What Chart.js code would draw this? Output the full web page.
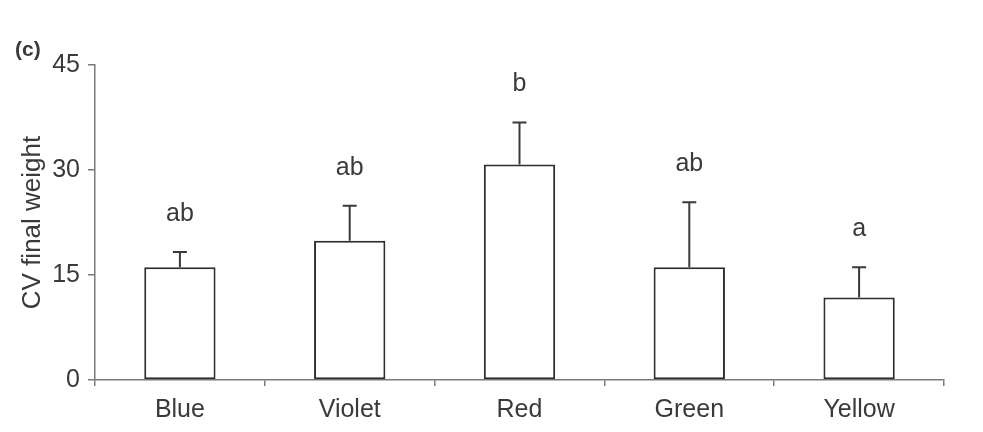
<!DOCTYPE html>
<html>
<head>
<meta charset="utf-8">
<script src="https://cdn.jsdelivr.net/npm/chart.js@4/dist/chart.umd.min.js"></script>
<style>
    html, body { margin: 0; padding: 0; background: #ffffff; }
    #wrap { width: 983px; height: 432px; position: relative; }
</style>
</head>
<body>
<div id="wrap"><canvas id="cv-chart"></canvas></div>
<script>
// 数据
const categories = ['Blue', 'Violet', 'Red', 'Green', 'Yellow'];
const cvMeans = [16.1, 19.9, 30.8, 16.1, 11.8];
const cvErrorTops = [18.3, 24.9, 36.8, 25.4, 16.1];
const groupLetters = ['ab', 'ab', 'b', 'ab', 'a'];
const yTicks = [0, 15, 30, 45];

const fontFamily = '"Liberation Sans", Arial, Helvetica, sans-serif';
const inkColor = '#3a3a3a';
const axisColor = '#7a7a7a';

// 误差线 + 字母标注
const errorBarPlugin = {
    id: 'errorBars',
    afterDatasetsDraw(chart) {
        const ctx = chart.ctx;
        const meta = chart.getDatasetMeta(0);
        const yScale = chart.scales.y;
        ctx.save();
        ctx.strokeStyle = '#3a3a3a';
        ctx.lineWidth = 2;
        meta.data.forEach((bar, i) => {
            const x = bar.x;
            const yBase = yScale.getPixelForValue(cvMeans[i]);
            const yTop = yScale.getPixelForValue(cvErrorTops[i]);
            ctx.beginPath();
            ctx.moveTo(x, yBase);
            ctx.lineTo(x, yTop);
            ctx.moveTo(x - 7, yTop);
            ctx.lineTo(x + 7, yTop);
            ctx.stroke();

            ctx.fillStyle = inkColor;
            ctx.font = '25px ' + fontFamily;
            ctx.textAlign = 'center';
            ctx.textBaseline = 'middle';
            ctx.fillText(groupLetters[i], x, yTop - 38);
        });
        // 面板标记
        ctx.font = 'bold 21px ' + fontFamily;
        ctx.textAlign = 'left';
        ctx.fillText('(c)', 15, 50);
        ctx.restore();
    }
};

const ctx = document.getElementById('cv-chart').getContext('2d');
const chart = new Chart(ctx, {
    type: 'bar',
    data: {
        labels: categories,
        datasets: [{
            label: 'CV final weight',
            data: cvMeans,
            backgroundColor: '#ffffff',
            borderColor: '#2e2e2e',
            borderWidth: 2,
            borderSkipped: false,
            categoryPercentage: 1.0,
            barPercentage: 0.42
        }]
    },
    options: {
        responsive: true,
        maintainAspectRatio: false,
        animation: false,
        layout: {
            padding: { top: 65, right: 39, bottom: 0, left: 0 }
        },
        plugins: {
            legend: { display: false },
            tooltip: { enabled: false }
        },
        scales: {
            x: {
                grid: {
                    offset: true,
                    drawOnChartArea: false,
                    tickLength: 6,
                    color: axisColor,
                    lineWidth: 1.5
                },
                border: { color: axisColor, width: 1.5 },
                ticks: {
                    color: inkColor,
                    padding: 9,
                    font: { family: fontFamily, size: 25 }
                },
                afterFit(scale) { scale.height = 52; }
            },
            y: {
                min: 0,
                max: 45,
                afterBuildTicks(scale) {
                    scale.ticks = yTicks.map(v => ({ value: v }));
                },
                grid: {
                    drawOnChartArea: false,
                    tickLength: 7,
                    color: axisColor,
                    lineWidth: 1.5
                },
                border: { color: axisColor, width: 1.5 },
                ticks: {
                    color: inkColor,
                    padding: 8,
                    font: { family: fontFamily, size: 25 }
                },
                title: {
                    display: true,
                    text: 'CV final weight',
                    color: inkColor,
                    padding: { top: 17, bottom: 0 },
                    font: { family: fontFamily, size: 26 }
                },
                afterFit(scale) { scale.width = 95; }
            }
        }
    },
    plugins: [errorBarPlugin]
});
window.chart = chart;
</script>
</body>
</html>
